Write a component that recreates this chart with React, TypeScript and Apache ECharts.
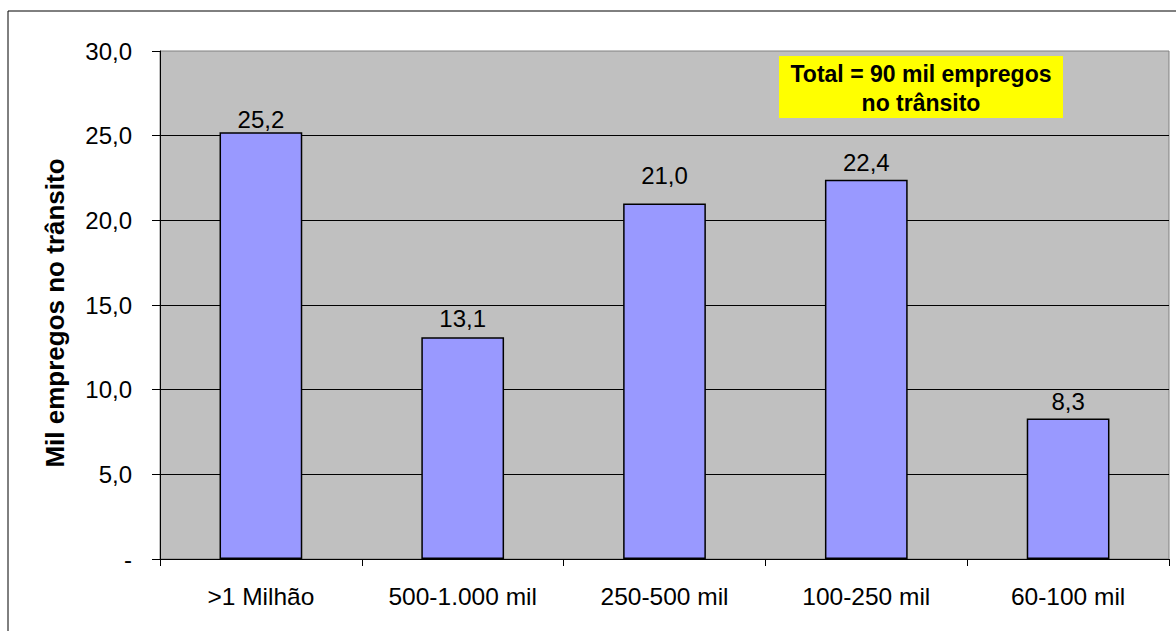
import React, { useEffect, useRef } from "react";
import * as echarts from "echarts";

const categories = [">1 Milhão", "500-1.000 mil", "250-500 mil", "100-250 mil", "60-100 mil"];
const values = [25.2, 13.1, 21.0, 22.4, 8.3];
const yAxisName = "Mil empregos no trânsito";
const noteLines = ["Total = 90 mil empregos", "no trânsito"];

const fmt = (v: number) => (v === 0 ? "-" : v.toFixed(1).replace(".", ","));

// label gap above each bar (styling only)
const labelGaps = [1, 7, 16, 5, 5];

export default function App() {
  const ref = useRef<HTMLDivElement>(null);
  useEffect(() => {
    document.body.style.margin = "0";
    const chart = echarts.init(ref.current!, null, { renderer: "svg" });
    const font = "'Liberation Sans', Arial, sans-serif";
    chart.setOption({
      animation: false,
      backgroundColor: "#ffffff",
      grid: {
        left: 160,
        top: 51,
        width: 1009,
        height: 508,
        show: true,
        backgroundColor: "#C0C0C0",
        borderColor: "#808080",
        borderWidth: 1,
      },
      xAxis: {
        type: "category",
        data: categories,
        axisLine: { show: true, lineStyle: { color: "#000", width: 1 } },
        axisTick: { show: true, length: 7, lineStyle: { color: "#000" } },
        axisLabel: { color: "#000", fontSize: 24.5, fontFamily: font, margin: 25 },
      },
      yAxis: {
        type: "value",
        min: 0,
        max: 30,
        interval: 5,
        name: yAxisName,
        nameLocation: "middle",
        nameGap: 92,
        nameTextStyle: {
          color: "#000",
          fontSize: 26,
          fontWeight: "bold",
          fontFamily: font,
          padding: [0, 16, 0, 0],
        },
        axisLine: { show: true, lineStyle: { color: "#000", width: 1 } },
        axisTick: { show: true, length: 8, lineStyle: { color: "#000" } },
        axisLabel: { color: "#000", fontSize: 24, fontFamily: font, margin: 28, formatter: fmt },
        splitLine: { show: true, showMaxLine: false, lineStyle: { color: "#000", width: 1 } },
      },
      series: [
        {
          type: "bar",
          data: values.map((v, i) => ({ value: v, label: { distance: labelGaps[i] } })),
          barWidth: "41%",
          itemStyle: { color: "#9999FF", borderColor: "#000", borderWidth: 1.5 },
          label: {
            show: true,
            position: "top",
            distance: 1,
            color: "#000",
            fontSize: 24,
            fontFamily: font,
            formatter: (p: any) => fmt(p.value),
          },
        },
      ],
      graphic: [
        {
          type: "rect",
          shape: { x: 8, y: 11, width: 1300, height: 800 },
          style: { fill: "none", stroke: "#000", lineWidth: 1 },
          silent: true,
        },
        {
          type: "rect",
          shape: { x: 779, y: 56, width: 284, height: 62 },
          style: { fill: "#FFFF00" },
        },
        {
          type: "text",
          x: 921,
          y: 74,
          style: {
            text: noteLines[0],
            fill: "#000",
            font: `bold 23px ${font}`,
            textAlign: "center",
            textVerticalAlign: "middle",
          },
        },
        {
          type: "text",
          x: 921,
          y: 103,
          style: {
            text: noteLines[1],
            fill: "#000",
            font: `bold 23px ${font}`,
            textAlign: "center",
            textVerticalAlign: "middle",
          },
        },
      ],
    });
    return () => chart.dispose();
  }, []);
  return <div ref={ref} style={{ width: 1176, height: 631, position: "absolute", left: 0, top: 0 }} />;
}
